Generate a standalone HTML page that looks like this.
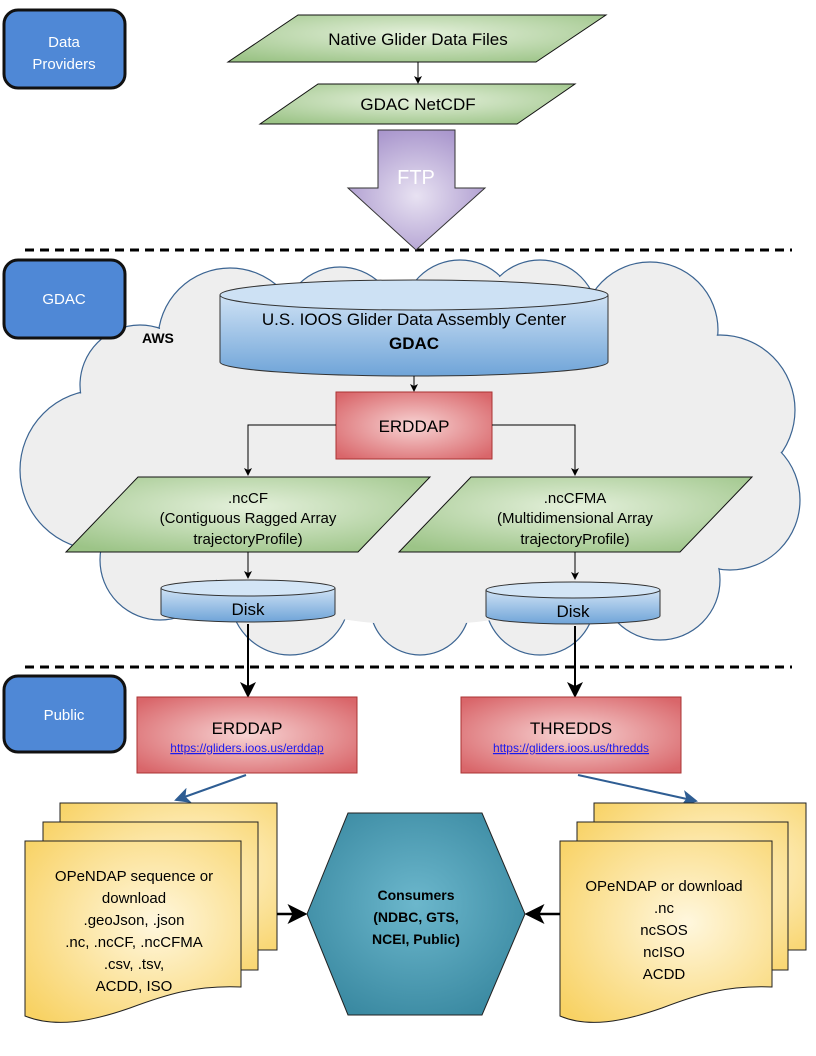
<!DOCTYPE html>
<html><head><meta charset="utf-8"><style>
html,body{margin:0;padding:0;background:#fff}
svg{display:block}
text{font-family:"Liberation Sans",sans-serif}
</style></head><body>
<svg width="816" height="1056" viewBox="0 0 816 1056" xmlns="http://www.w3.org/2000/svg">
<defs>
<radialGradient id="gG" cx="50%" cy="40%" r="70%"><stop offset="0" stop-color="#e4f0db"/><stop offset="1" stop-color="#9cc487"/></radialGradient>
<radialGradient id="rG" cx="50%" cy="50%" r="65%"><stop offset="0" stop-color="#f7d3d3"/><stop offset="1" stop-color="#d9666a"/></radialGradient>
<linearGradient id="bC" x1="0" y1="0" x2="0" y2="1"><stop offset="0" stop-color="#cfe2f5"/><stop offset="1" stop-color="#6fa4d8"/></linearGradient>
<radialGradient id="pG" cx="50%" cy="55%" r="60%"><stop offset="0" stop-color="#e8e2f2"/><stop offset="1" stop-color="#a895cc"/></radialGradient>
<radialGradient id="yG" cx="60%" cy="45%" r="75%"><stop offset="0" stop-color="#fff7de"/><stop offset="1" stop-color="#f8d264"/></radialGradient>
<radialGradient id="tG" cx="50%" cy="45%" r="60%"><stop offset="0" stop-color="#6cb7cc"/><stop offset="1" stop-color="#3b8aa2"/></radialGradient>
<marker id="ar" markerWidth="8" markerHeight="8" refX="7" refY="4" orient="auto"><path d="M0,0 L8,4 L0,8 L2,4z" fill="#000"/></marker>
<marker id="ab" markerWidth="8" markerHeight="8" refX="7" refY="4" orient="auto"><path d="M0,0 L8,4 L0,8 L2,4z" fill="#2e5d93"/></marker>
</defs>

<!-- cloud -->
<g fill="#eeeeee" stroke="#3b6492" stroke-width="1.2">
<circle cx="230" cy="340" r="72"/><circle cx="340" cy="325" r="58"/><circle cx="460" cy="318" r="58"/>
<circle cx="540" cy="318" r="58"/><circle cx="650" cy="330" r="68"/><circle cx="720" cy="410" r="75"/>
<circle cx="730" cy="500" r="70"/><circle cx="660" cy="580" r="60"/><circle cx="540" cy="600" r="55"/>
<circle cx="420" cy="605" r="50"/><circle cx="290" cy="595" r="60"/><circle cx="160" cy="560" r="60"/>
<circle cx="100" cy="470" r="80"/><circle cx="140" cy="385" r="60"/>
</g>
<g fill="#eeeeee">
<circle cx="230" cy="340" r="71"/><circle cx="340" cy="325" r="57"/><circle cx="460" cy="318" r="57"/>
<circle cx="540" cy="318" r="57"/><circle cx="650" cy="330" r="67"/><circle cx="720" cy="410" r="74"/>
<circle cx="730" cy="500" r="69"/><circle cx="660" cy="580" r="59"/><circle cx="540" cy="600" r="54"/>
<circle cx="420" cy="605" r="49"/><circle cx="290" cy="595" r="59"/><circle cx="160" cy="560" r="59"/>
<circle cx="100" cy="470" r="79"/><circle cx="140" cy="385" r="59"/>
<ellipse cx="420" cy="455" rx="300" ry="170"/>
</g>

<!-- dashed lines -->
<line x1="25" y1="250" x2="792" y2="250" stroke="#000" stroke-width="3" stroke-dasharray="9,6"/>
<line x1="25" y1="667" x2="792" y2="667" stroke="#000" stroke-width="3" stroke-dasharray="9,6"/>

<!-- left labels -->
<g fill="#4f88d6" stroke="#111" stroke-width="3">
<rect x="4" y="10" width="121" height="78" rx="14"/>
<rect x="4" y="260" width="121" height="78" rx="14"/>
<rect x="4" y="676" width="121" height="76" rx="14"/>
</g>
<g fill="#fff" font-size="15" text-anchor="middle">
<text x="64" y="47">Data</text><text x="64" y="69">Providers</text>
<text x="64" y="304">GDAC</text>
<text x="64" y="720">Public</text>
</g>

<!-- top parallelograms -->
<polygon points="298,15 606,15 536,62 228,62" fill="url(#gG)" stroke="#111"/>
<text x="418" y="45" font-size="17" text-anchor="middle">Native Glider Data Files</text>
<line x1="418" y1="62" x2="418" y2="83" stroke="#000" marker-end="url(#ar)"/>
<polygon points="318,84 575,84 517,124 260,124" fill="url(#gG)" stroke="#111"/>
<text x="418" y="110" font-size="17" text-anchor="middle">GDAC NetCDF</text>

<!-- FTP arrow -->
<polygon points="378,130 455,130 455,188 485,188 416,250 348,188 378,188" fill="url(#pG)" stroke="#333"/>
<text x="416" y="184" font-size="20" fill="#fff" text-anchor="middle">FTP</text>

<text x="142" y="343" font-size="14" font-weight="bold">AWS</text>

<!-- GDAC cylinder -->
<path d="M220,295 L220,362 A194,14 0 0 0 608,362 L608,295" fill="url(#bC)" stroke="#333"/>
<ellipse cx="414" cy="295" rx="194" ry="15" fill="#cde1f4" stroke="#333"/>
<text x="414" y="325" font-size="17" text-anchor="middle">U.S. IOOS Glider Data Assembly Center</text>
<text x="414" y="349" font-size="17" font-weight="bold" text-anchor="middle">GDAC</text>
<line x1="414" y1="376" x2="414" y2="391" stroke="#000" marker-end="url(#ar)"/>

<!-- ERDDAP -->
<rect x="336" y="392" width="156" height="67" fill="url(#rG)" stroke="#a33"/>
<text x="414" y="432" font-size="17" text-anchor="middle">ERDDAP</text>
<polyline points="336,425 248,425 248,475" fill="none" stroke="#000" marker-end="url(#ar)"/>
<polyline points="492,425 575,425 575,475" fill="none" stroke="#000" marker-end="url(#ar)"/>

<!-- nc parallelograms -->
<polygon points="138,477 430,477 358,552 66,552" fill="url(#gG)" stroke="#111"/>
<g font-size="15" text-anchor="middle"><text x="248" y="503">.ncCF</text><text x="248" y="523">(Contiguous Ragged Array</text><text x="248" y="544">trajectoryProfile)</text></g>
<polygon points="471,477 752,477 680,552 399,552" fill="url(#gG)" stroke="#111"/>
<g font-size="15" text-anchor="middle"><text x="575" y="503">.ncCFMA</text><text x="575" y="523">(Multidimensional Array</text><text x="575" y="544">trajectoryProfile)</text></g>
<line x1="248" y1="552" x2="248" y2="578" stroke="#000" marker-end="url(#ar)"/>
<line x1="575" y1="552" x2="575" y2="579" stroke="#000" marker-end="url(#ar)"/>

<!-- disks -->
<path d="M161,588 L161,614 A87,8 0 0 0 335,614 L335,588" fill="url(#bC)" stroke="#333"/>
<ellipse cx="248" cy="588" rx="87" ry="8" fill="#d3e5f6" stroke="#333"/>
<text x="248" y="615" font-size="17" text-anchor="middle">Disk</text>
<path d="M486,590 L486,616 A87,8 0 0 0 660,616 L660,590" fill="url(#bC)" stroke="#333"/>
<ellipse cx="573" cy="590" rx="87" ry="8" fill="#d3e5f6" stroke="#333"/>
<text x="573" y="617" font-size="17" text-anchor="middle">Disk</text>
<line x1="248" y1="624" x2="248" y2="696" stroke="#000" stroke-width="2" marker-end="url(#ar)"/>
<line x1="575" y1="626" x2="575" y2="696" stroke="#000" stroke-width="2" marker-end="url(#ar)"/>

<!-- public boxes -->
<rect x="137" y="697" width="220" height="76" fill="url(#rG)" stroke="#a33"/>
<text x="247" y="734" font-size="17" text-anchor="middle">ERDDAP</text>
<text x="247" y="752" font-size="12" fill="#1a1aee" text-anchor="middle" text-decoration="underline">https://gliders.ioos.us/erddap</text>
<rect x="461" y="697" width="220" height="76" fill="url(#rG)" stroke="#a33"/>
<text x="571" y="734" font-size="17" text-anchor="middle">THREDDS</text>
<text x="571" y="752" font-size="12" fill="#1a1aee" text-anchor="middle" text-decoration="underline">https://gliders.ioos.us/thredds</text>
<line x1="246" y1="775" x2="176" y2="800" stroke="#2e5d93" stroke-width="2" marker-end="url(#ab)"/>
<line x1="578" y1="775" x2="696" y2="801" stroke="#2e5d93" stroke-width="2" marker-end="url(#ab)"/>

<!-- left doc stack -->
<g stroke="#222" fill="url(#yG)">
<path d="M60,803 L277,803 L277,950 L60,950Z"/>
<path d="M43,822 L258,822 L258,970 L43,970Z"/>
<path d="M25,841 L241,841 L241,987 C195,985 165,995 130,1008 C90,1022 55,1028 25,1016Z"/>
</g>
<g font-size="15" text-anchor="middle">
<text x="134" y="881">OPeNDAP sequence or</text><text x="134" y="903">download</text>
<text x="134" y="925">.geoJson, .json</text><text x="134" y="947">.nc, .ncCF, .ncCFMA</text>
<text x="134" y="969">.csv, .tsv,</text><text x="134" y="991">ACDD, ISO</text>
</g>

<!-- right doc stack -->
<g stroke="#222" fill="url(#yG)">
<path d="M594,803 L806,803 L806,950 L594,950Z"/>
<path d="M577,822 L788,822 L788,970 L577,970Z"/>
<path d="M560,841 L772,841 L772,987 C726,985 696,995 662,1008 C622,1022 588,1028 560,1016Z"/>
</g>
<g font-size="15" text-anchor="middle">
<text x="664" y="891">OPeNDAP or download</text><text x="664" y="913">.nc</text>
<text x="664" y="935">ncSOS</text><text x="664" y="957">ncISO</text><text x="664" y="979">ACDD</text>
</g>

<!-- hexagon -->
<polygon points="348,813 482,813 525,914 482,1015 348,1015 307,914" fill="url(#tG)" stroke="#222"/>
<g font-size="14" font-weight="bold" text-anchor="middle">
<text x="416" y="900">Consumers</text><text x="416" y="922">(NDBC, GTS,</text><text x="416" y="944">NCEI, Public)</text>
</g>
<line x1="277" y1="914" x2="305" y2="914" stroke="#000" stroke-width="2.5" marker-end="url(#ar)"/>
<line x1="560" y1="914" x2="527" y2="914" stroke="#000" stroke-width="2.5" marker-end="url(#ar)"/>
</svg>
</body></html>
